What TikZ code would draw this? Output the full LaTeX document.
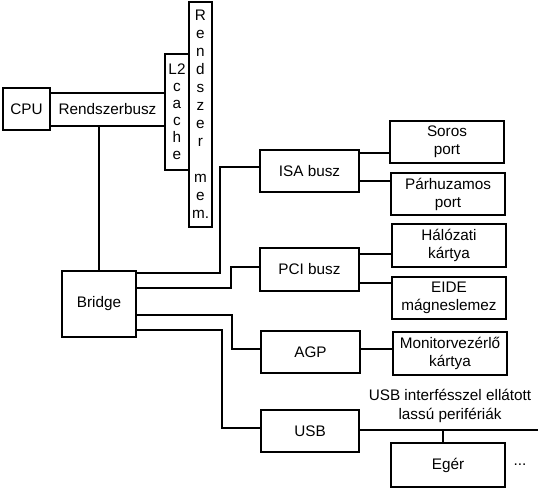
\documentclass[tikz,border=0pt]{standalone}
\usepackage{fontspec}
\setmainfont{Liberation Sans}
\usetikzlibrary{calc}
\tikzset{
  box/.style={draw, line width=2pt, inner sep=0pt, align=center,
    font={\fontsize{15.3}{18}\selectfont}},
  conn/.style={line width=2pt},
  lbl/.style={inner sep=0pt, align=center, font={\fontsize{15.3}{19}\selectfont}}
}
\begin{document}
\begin{tikzpicture}[x=1pt,y=-1pt]
\useasboundingbox (0,0) rectangle (540,490);
% nodes
\node[box, minimum width=47pt, minimum height=42pt] (cpu) at (26.5,109) {CPU};
\node[box, minimum width=115pt, minimum height=33pt] (rb) at (107.5,109.5) {Rendszerbusz};
\node[box, minimum width=24pt, minimum height=116pt, font={\fontsize{15.3}{17}\selectfont}] (l2) at (177,112) {L2\\c\\a\\c\\h\\e};
\node[box, minimum width=23pt, minimum height=225pt] (mem) at (200.5,114.5) {R\\e\\n\\d\\s\\z\\e\\r\\\mbox{}\\m\\e\\m.};
\node[box, minimum width=74pt, minimum height=66pt] (bridge) at (99,304) {Bridge};
\node[box, minimum width=99pt, minimum height=42pt] (isa) at (309.5,171) {ISA busz};
\node[box, minimum width=114pt, minimum height=42pt] (soros) at (447,142) {Soros\\port};
\node[box, minimum width=114pt, minimum height=42pt] (parh) at (448,194) {Párhuzamos\\port};
\node[box, minimum width=99pt, minimum height=43pt] (pci) at (309.5,269.5) {PCI busz};
\node[box, minimum width=114pt, minimum height=43pt] (halo) at (449,245.5) {Hálózati\\kártya};
\node[box, minimum width=114pt, minimum height=42pt] (eide) at (449,298) {EIDE\\mágneslemez};
\node[box, minimum width=99pt, minimum height=42pt] (agp) at (310.5,352) {AGP};
\node[box, minimum width=114pt, minimum height=43pt] (mon) at (450,353.5) {Monitorvezérlő\\kártya};
\node[box, minimum width=98pt, minimum height=42pt] (usb) at (310,431) {USB};
\node[box, minimum width=114pt, minimum height=44pt] (eger) at (448,465) {Egér};
\node[lbl] (usblbl) at (450,406) {USB interfésszel ellátott\\lassú perifériák};
\node[lbl] (dots) at (520,465) {...};
\coordinate (busend) at (538,430);
% connectors
\draw[conn] (rb.south -| bridge.north) -- (bridge.north);
\draw[conn] ($(bridge.north east)+(0,2.5)$) -| (220,167) -- (isa.west |- 0,167);
\draw[conn] ($(bridge.north east)+(0,18)$) -| (231,267) -- (pci.west |- 0,267);
\draw[conn] ($(bridge.north east)+(0,45)$) -| (232,349) -- (agp.west |- 0,349);
\draw[conn] ($(bridge.north east)+(0,60)$) -| (222,428) -- (usb.west |- 0,428);
\draw[conn] (isa.east |- 0,153) -- (soros.west |- 0,153);
\draw[conn] (isa.east |- 0,181) -- (parh.west |- 0,181);
\draw[conn] (pci.east |- 0,254) -- (halo.west |- 0,254);
\draw[conn] (pci.east |- 0,283) -- (eide.west |- 0,283);
\draw[conn] (agp.east |- 0,349) -- (mon.west |- 0,349);
\draw[conn] (usb.east |- busend) -- (busend);
\draw[conn] (eger.north -| 443,0) -- (443,430);
\end{tikzpicture}
\end{document}
